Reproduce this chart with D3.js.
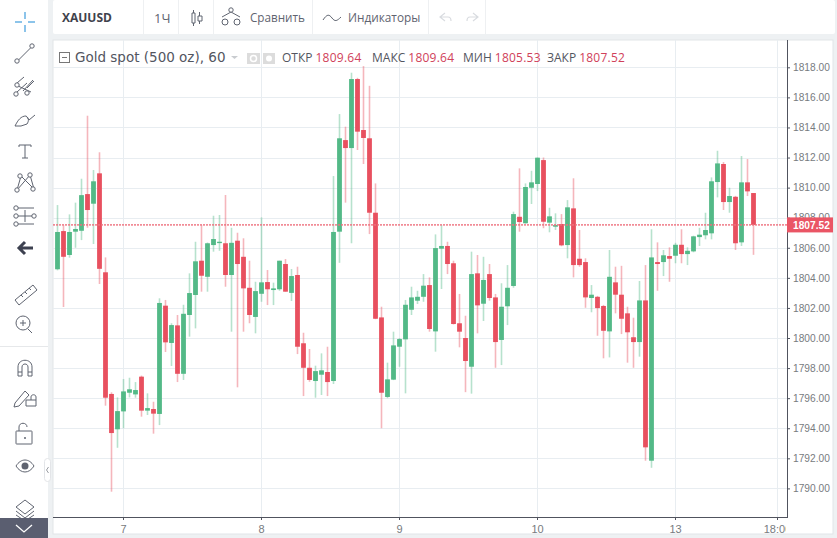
<!DOCTYPE html>
<html>
<head>
<meta charset="utf-8">
<script src="https://cdnjs.cloudflare.com/ajax/libs/d3/7.8.5/d3.min.js"></script>
<style>
  html, body { margin: 0; padding: 0; background: #eef1f3; overflow: hidden; }
  svg { display: block; }
  text { font-family: "Open Sans", sans-serif; }
</style>
</head>
<body>
<div id="main"></div>
<script>
const w = 837;
const h = 538;

// candles, hourly
const opens = [
  1804.57,1807.11,1805.52,1807.07,1807.13,1809.57,1808.93,1810.95,1804.37,1796.28,
  1793.93,1795.12,1796.36,1796.25,1797.43,1795.17,1795.28,1794.95,1802.15,1799.67,
  1800.84,1797.62,1801.53,1802.86,1805.14,1804.07,1806.18,1806.31,1806.3,1804.19,
  1806.47,1805.4,1803.34,1801.4,1802.94,1803.72,1803.19,1803.24,1804.92,1803.0,
  1804.19,1799.65,1798.02,1797.14,1797.56,1797.74,1797.14,1807.07,1813.16,1812.63,
  1817.22,1813.83,1813.28,1808.33,1801.37,1796.08,1797.23,1799.42,1799.91,1801.88,
  1802.48,1802.74,1803.52,1800.44,1805.94,1806.12,1804.97,1800.98,1800.0,1798.09,
  1804.3,1802.28,1804.25,1802.7,1799.87,1802.11,1803.46,1808.06,1807.63,1809.99,
  1810.24,1811.83,1807.67,1807.4,1807.58,1806.18,1808.62,1805.27,1805.05,1802.66,
  1802.74,1802.13,1800.44,1803.7,1802.88,1801.64,1800.05,1799.73,1802.5,1791.84,
  1805.05,1805.05,1805.45,1805.47,1806.2,1805.58,1805.76,1806.71,1806.83,1806.96,
  1810.37,1811.57,1809.04,1809.39,1806.36,1810.35,1809.64
];
const highs = [
  1808.84,1807.5,1808.22,1809.0,1810.59,1814.78,1811.17,1812.35,1805.36,1796.39,
  1796.05,1797.27,1797.36,1797.07,1797.5,1796.32,1795.76,1802.64,1802.53,1800.98,
  1801.53,1802.21,1804.3,1806.4,1807.51,1806.35,1808.13,1808.18,1809.51,1807.33,
  1807.0,1806.63,1805.14,1803.74,1808.02,1804.52,1803.68,1805.14,1805.25,1804.59,
  1804.74,1800.35,1799.27,1798.16,1798.98,1799.42,1810.77,1814.89,1814.05,1817.64,
  1817.3,1818.08,1816.77,1810.28,1802.08,1798.36,1800.42,1800.0,1802.53,1803.41,
  1803.14,1804.25,1804.03,1806.89,1807.51,1806.4,1805.14,1802.93,1801.48,1805.74,
  1805.52,1805.4,1804.92,1802.93,1803.64,1804.85,1808.4,1811.28,1810.28,1811.12,
  1812.0,1812.0,1808.66,1808.29,1808.24,1809.17,1810.62,1807.18,1805.3,1803.52,
  1802.8,1802.2,1805.85,1804.74,1804.8,1802.08,1801.35,1803.79,1804.85,1807.23,
  1806.36,1805.85,1806.03,1806.33,1807.23,1806.03,1806.8,1807.33,1808.33,1810.68,
  1812.45,1811.7,1809.99,1809.45,1812.1,1811.9,1809.64
];
const lows = [
  1804.5,1802.06,1805.34,1806.0,1806.51,1807.33,1806.25,1803.59,1795.5,1789.78,
  1792.7,1794.0,1796.05,1796.03,1794.77,1794.88,1793.64,1794.21,1799.07,1798.14,
  1797.07,1797.21,1800.09,1800.64,1803.08,1803.08,1805.74,1805.8,1803.41,1800.42,
  1796.72,1800.42,1800.98,1800.31,1802.41,1802.19,1802.19,1803.14,1803.08,1802.46,
  1798.93,1796.14,1797.09,1796.03,1796.21,1796.14,1796.94,1805.0,1809.0,1806.3,
  1812.5,1811.57,1806.91,1801.25,1794.0,1796.0,1797.2,1798.09,1796.32,1801.53,
  1802.26,1802.41,1800.42,1799.09,1803.26,1804.25,1800.9,1799.38,1796.4,1796.3,
  1800.31,1801.13,1802.48,1798.02,1798.2,1800.86,1803.34,1807.07,1807.6,1808.91,
  1809.77,1807.3,1807.03,1807.18,1806.1,1805.3,1804.03,1804.74,1802.01,1801.71,
  1800.15,1798.65,1798.71,1801.64,1800.26,1798.36,1798.02,1798.76,1791.84,1791.37,
  1803.14,1804.12,1803.74,1804.97,1804.97,1804.85,1805.7,1806.12,1806.56,1806.56,
  1809.35,1808.51,1808.33,1805.85,1806.12,1809.44,1805.53
];
const closes = [
  1807.05,1805.4,1807.05,1807.25,1809.5,1808.51,1810.42,1804.6,1796.03,1793.68,
  1795.14,1796.45,1796.59,1796.54,1795.17,1795.34,1794.97,1802.33,1799.71,1800.86,
  1797.62,1801.61,1802.99,1805.1,1804.14,1806.3,1806.58,1806.4,1804.19,1806.33,
  1804.92,1803.3,1801.53,1803.12,1803.7,1803.24,1803.3,1805.14,1803.08,1804.12,
  1799.42,1798.02,1797.21,1797.8,1797.85,1797.07,1807.05,1813.28,1812.63,1817.22,
  1813.72,1813.3,1808.33,1801.28,1796.36,1797.25,1799.51,1799.93,1802.21,1802.7,
  1802.74,1803.48,1800.6,1805.98,1806.12,1804.92,1800.93,1800.42,1798.47,1804.25,
  1802.17,1803.86,1802.66,1799.73,1802.08,1803.34,1808.24,1807.71,1810.04,1810.35,
  1811.99,1807.73,1808.09,1807.51,1806.16,1808.69,1804.85,1804.85,1802.7,1802.88,
  1801.99,1800.48,1804.07,1802.88,1801.28,1800.38,1799.73,1802.5,1792.73,1805.36,
  1804.92,1805.5,1805.27,1806.2,1805.58,1805.8,1806.76,1806.87,1807.18,1810.42,
  1811.61,1809.04,1809.44,1806.3,1810.35,1809.75,1807.52
];

const priceTicks = [1790,1792,1794,1796,1798,1800,1802,1804,1806,1808,1810,1812,1814,1816,1818];
const timeTickIndex = [11,34,57,80,103,120];
const timeTickLabels = ["7","8","9","10","13","18:00"];
const lastPrice = 1807.52;
const legendItems = [["ОТКР","1809.64",282],["МАКС","1809.64",372],["МИН","1805.53",463],["ЗАКР","1807.52",547]];

const upColor = "#53b987";
const downColor = "#e8505f";
const gridColor = "#e8edf1";
const axisColor = "#50535e";
const textColor = "#787b80";
const iconColor = "#5f6470";

const plotLeft = 53, plotRight = 787, plotBottom = 517;

const x = d3.scaleLinear().domain([0,116]).range([57,753]);
const y = d3.scaleLinear().domain([1790,1818]).range([488.4,67.3]);

const svg = d3.select("#main").append("svg").attr("width",w).attr("height",h);

// panels
svg.append("rect").attr("x",0).attr("y",0).attr("width",48).attr("height",h).attr("fill","#fff");
svg.append("rect").attr("x",53).attr("y",0).attr("width",782).attr("height",34).attr("rx",2).attr("fill","#fff");
svg.append("rect").attr("x",53).attr("y",40).attr("width",780).attr("height",494)
   .attr("fill","#fff").attr("stroke","#e1e5e8");

svg.append("defs").append("clipPath").attr("id","plot")
   .append("rect").attr("x",plotLeft).attr("y",40).attr("width",plotRight-plotLeft).attr("height",498);

// grid
svg.append("g").selectAll("line").data(priceTicks).enter().append("line")
   .attr("x1",plotLeft).attr("x2",plotRight)
   .attr("y1",d=>Math.round(y(d))+0.5).attr("y2",d=>Math.round(y(d))+0.5)
   .attr("stroke",gridColor);
svg.append("g").selectAll("line").data(timeTickIndex).enter().append("line")
   .attr("x1",d=>x(d)+0.5).attr("x2",d=>x(d)+0.5)
   .attr("y1",40).attr("y2",plotBottom)
   .attr("stroke",gridColor);

// candles
const idx = d3.range(opens.length);
const candles = svg.append("g").attr("clip-path","url(#plot)");
const colorOf = i => closes[i] >= opens[i] ? upColor : downColor;

// wider and paler than 1px so the colour survives the photo
candles.selectAll("line").data(idx).enter().append("line")
   .attr("x1",i=>x(i)+0.5).attr("x2",i=>x(i)+0.5)
   .attr("y1",i=>y(highs[i])).attr("y2",i=>y(lows[i]))
   .attr("stroke",colorOf).attr("stroke-width",1.6).attr("stroke-opacity",0.42);

candles.selectAll("rect").data(idx).enter().append("rect")
   .attr("x",i=>x(i)-1.9).attr("width",4.8)
   .attr("y",i=>y(Math.max(opens[i],closes[i])))
   .attr("height",i=>Math.max(1,Math.abs(y(opens[i])-y(closes[i]))))
   .attr("fill",colorOf);

// last price line
svg.append("line").attr("x1",plotLeft).attr("x2",plotRight)
   .attr("y1",y(lastPrice)).attr("y2",y(lastPrice))
   .attr("stroke","#ee6f7d").attr("stroke-width",1.6).attr("stroke-opacity",0.8).attr("stroke-dasharray","2,1");

// price axis
const yAxis = d3.axisRight(y).tickValues(priceTicks).tickFormat(d3.format(".2f")).tickSize(3).tickPadding(3);
const yG = svg.append("g").attr("transform","translate("+plotRight+",0)").call(yAxis);
yG.select(".domain").remove();
yG.selectAll("line").attr("stroke",axisColor);
yG.selectAll("text").attr("fill",textColor)
  .style("font-family","'Liberation Sans'").style("font-size","10.2px");
svg.append("line").attr("x1",plotRight+0.5).attr("x2",plotRight+0.5).attr("y1",40).attr("y2",plotBottom)
   .attr("stroke",axisColor);

// time axis
const xAxis = d3.axisBottom(x).tickValues(timeTickIndex).tickFormat((d,i)=>timeTickLabels[i]).tickSize(3).tickPadding(5);
const xG = svg.append("g").attr("transform","translate(0,"+plotBottom+")").attr("clip-path","url(#timeClip)").call(xAxis);
svg.select("defs").append("clipPath").attr("id","timeClip")
   .append("rect").attr("x",plotLeft).attr("y",-2).attr("width",plotRight-plotLeft-1).attr("height",22);
xG.select(".domain").remove();
xG.selectAll("line").attr("stroke",axisColor);
xG.selectAll("text").attr("fill",textColor)
  .style("font-family","'Liberation Sans'").style("font-size","11px");
svg.append("line").attr("x1",plotLeft).attr("x2",plotRight+1).attr("y1",plotBottom+0.5).attr("y2",plotBottom+0.5)
   .attr("stroke",axisColor);

// last price tag
svg.append("rect").attr("x",plotRight).attr("y",y(lastPrice)-7.5).attr("width",46).attr("height",15).attr("fill","#ea5565");
svg.append("text").attr("x",793).attr("y",y(lastPrice)+4).attr("fill","#fff")
   .style("font-family","'Liberation Sans'").style("font-size","10.2px").style("font-weight","bold")
   .text(d3.format(".2f")(lastPrice));

// legend row
svg.append("text").attr("x",75).attr("y",62).attr("fill","#53565f")
   .style("font-family","'DejaVu Sans'").style("font-size","13.5px").text("Gold spot (500 oz), 60");
svg.append("path").attr("d","M231 56h7l-3.5 3z").attr("fill","#c9ccd0");
svg.append("rect").attr("x",59.5).attr("y",52.5).attr("width",10).attr("height",10).attr("fill","none").attr("stroke","#777");
svg.append("line").attr("x1",62).attr("x2",67).attr("y1",57.5).attr("y2",57.5).attr("stroke","#777");
svg.append("rect").attr("x",247).attr("y",53).attr("width",13).attr("height",11).attr("fill","#dcdcdc");
svg.append("rect").attr("x",263).attr("y",53).attr("width",12).attr("height",11).attr("fill","#dcdcdc");
svg.append("circle").attr("cx",253.5).attr("cy",58.5).attr("r",3).attr("fill","none").attr("stroke","#fff").attr("stroke-width",1.5);
svg.append("circle").attr("cx",269).attr("cy",58.5).attr("r",3).attr("fill","#fff");

legendItems.forEach(function(d){
  const t = svg.append("text").attr("x",d[2]).attr("y",62).style("font-size","12px");
  t.append("tspan").attr("fill","#53565f").text(d[0]);
  t.append("tspan").attr("fill","#d0415a").attr("dx",3).style("letter-spacing","0.25px").text(d[1]);
});

// top toolbar
[143,178,213,312,428,485].forEach(function(d){
  svg.append("line").attr("x1",d+0.5).attr("x2",d+0.5).attr("y1",0).attr("y2",34).attr("stroke","#eef0f2");
});
svg.append("text").attr("x",62).attr("y",22).attr("fill","#3f424c").style("font-size","12px").style("font-weight","bold").text("XAUUSD");
svg.append("text").attr("x",154).attr("y",23).attr("fill",iconColor).style("font-size","13px").text("1Ч");
svg.append("text").attr("x",250).attr("y",22).attr("fill",iconColor).style("font-size","11.7px").text("Сравнить");
svg.append("text").attr("x",348).attr("y",22).attr("fill",iconColor).style("font-size","11.8px").text("Индикаторы");

function icon(d, color, width) {
  svg.append("path").attr("d",d).attr("fill","none").attr("stroke",color||iconColor).attr("stroke-width",width||1);
}
function dot(cx, cy, r) {
  svg.append("circle").attr("cx",cx).attr("cy",cy).attr("r",r||2.2).attr("fill","#fff").attr("stroke",iconColor);
}
// candle button
icon("M193.5 10v3M193.5 23v3M192 13h3v10h-3zM199.5 12v4M199.5 21v3M198 16h4v5h-4z");
// compare button
icon("M222 17l9-5 9 5M222 22h6M234 22h6");
dot(231,10); dot(225,22,3); dot(237,22,3);
// indicators button
icon("M323 20c4-6 6-6 9-2s5 3 9-1");
// undo, redo
icon("M445 13l-5 4 5 4M440 17h8c3 0 3 2 3 4","#d9dce0",1.2);
icon("M473 13l5 4-5 4M478 17h-8c-3 0-3 2-3 4","#d9dce0",1.2);

// left toolbar
icon("M25 12v7M25 25v7M15 22h7M28 22h7","#8cc4ea",2);
icon("M18.5 60l12-12"); dot(17,61); dot(32,46);
icon("M17 83l7-6M23 91l10-11M16 85l15 7M27 88l7-7M17 92l10-9"); dot(17,85); dot(27,93); dot(16,94);
icon("M15 126c3-6 6-10 11-10 3 2 3 5 1 8l-6 2zM27 117l2 3 6-5");
icon("M19 145h12M25 145v13M22 158h6M19 145v2M31 145v2");
icon("M17 190l4-14 13 13-4-14-13 15"); dot(17,190); dot(20,176); dot(30,175); dot(33,189);
icon("M18 208h16M18 216h16M18 224h16M25 210v12"); dot(16,208); dot(16,216); dot(34,216); dot(16,224);
icon("M25 242l-6 6 6 6M20 248h13","#3d4150",3);
icon("M15 300l18-15 4 5-18 15zM21 295l2 2M25 292l2 2M29 288l2 2");
svg.append("circle").attr("cx",23).attr("cy",323).attr("r",7).attr("fill","none").attr("stroke",iconColor);
icon("M28 329l4 4M20 323h6M23 320v6");
svg.append("line").attr("x1",0).attr("x2",48).attr("y1",346.5).attr("y2",346.5).attr("stroke","#e6e8ea");
icon("M18 376v-9c0-9 14-9 14 0v9h-4v-9c0-4-6-4-6 0v9zM18 372h4M28 372h4");
icon("M15 403l10-12 4 4-10 11-5 1zM31 400v-3c0-3 5-3 5 0v3M26 400h10v6h-10z");
icon("M19 431v-4c0-5 8-5 8 0M17 431h14c1 0 1 0 1 1v11c0 1 0 1-1 1h-14c-1 0-1 0-1-1v-11c0-1 0-1 1-1z");
svg.append("circle").attr("cx",25).attr("cy",438).attr("r",1).attr("fill",iconColor);
icon("M16 466c5-8 13-8 18 0c-5 8-13 8-18 0z");
svg.append("circle").attr("cx",25).attr("cy",466).attr("r",3.5).attr("fill",iconColor);
icon("M16 507l9-7 9 7-9 7zM16 511l9 7 9-7M16 515l9 6 9-6");
svg.append("rect").attr("x",0).attr("y",518).attr("width",48).attr("height",20).attr("fill","#5a5e70");
icon("M16 525l8 7 8-7","#fff",1.3);
svg.append("rect").attr("x",44.5).attr("y",458.5).attr("width",6).attr("height",23).attr("rx",3).attr("fill","#fff").attr("stroke","#e3e5e8");
icon("M48.5 467l-2 3 2 3","#9a9da3");
</script>
</body>
</html>
